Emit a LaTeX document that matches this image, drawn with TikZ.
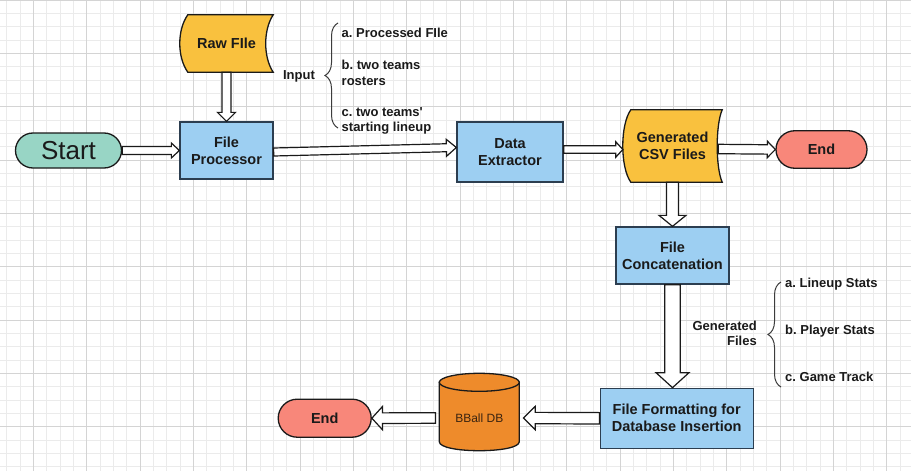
\documentclass[tikz,border=0pt]{standalone}
\usepackage{fontspec}
\setmainfont{Liberation Sans}
\usetikzlibrary{calc,decorations.pathreplacing}
\pgfdeclarelayer{gridlayer}
\pgfdeclarelayer{background}
\pgfsetlayers{gridlayer,background,main}
\frenchspacing

\definecolor{gridminor}{HTML}{EBEBEB}
\definecolor{gridmajor}{HTML}{D4D4D4}
\definecolor{boxblue}{HTML}{9DCFF2}
\definecolor{boxedge}{HTML}{2C3E50}
\definecolor{fileyellow}{HTML}{F9C13E}
\definecolor{startteal}{HTML}{98D5C5}
\definecolor{endred}{HTML}{F8877A}
\definecolor{dborange}{HTML}{EE8B2B}
\definecolor{dbtextc}{HTML}{3B2410}
\definecolor{ink}{HTML}{1A1A1A}

\tikzset{
  procbox/.style={draw=boxedge, fill=boxblue, line width=1.3pt, align=center,
    font=\bfseries\fontsize{14.5}{17}\selectfont, text=ink, inner sep=0pt},
  filebox/.style={align=center, font=\bfseries\fontsize{14.5}{17}\selectfont,
    text=ink, inner sep=0pt},
  termstart/.style={draw=ink, fill=startteal, line width=1.3pt, rounded corners=17.5pt,
    minimum width=106pt, minimum height=35pt, inner sep=0pt,
    font=\fontsize{26}{30}\selectfont, text=ink},
  termend/.style={draw=ink, fill=endred, line width=1.3pt, inner sep=0pt,
    font=\bfseries\fontsize{14.5}{17}\selectfont, text=ink},
  dbtext/.style={minimum width=80pt, minimum height=65pt, inner sep=0pt,
    font=\fontsize{12}{14}\selectfont, text=dbtextc},
  lbl/.style={font=\bfseries\fontsize{13}{15.5}\selectfont, text=ink, inner sep=0pt},
  onelbl/.style={lbl, text height=9.5pt, text depth=2.5pt},
  arrowline/.style={draw=ink, fill=white, line width=1.2pt, line join=miter},
  bracestyle/.style={draw=ink!85, line width=1pt, decorate},
  shapeline/.style={draw=ink, line width=1.3pt},
}

% stored-data shape: #1 node name, #2 right concavity depth
\newcommand\storedshape[2]{%
  \draw[shapeline, fill=fileyellow]
    ($(#1.north west)+(8,0)$) -- (#1.north east)
    .. controls ($(#1.north east)+(-1.333*#2,15)$) and ($(#1.south east)+(-1.333*#2,-15)$) .. (#1.south east)
    -- ($(#1.south west)+(8,0)$)
    .. controls ($(#1.south west)+(-2.7,-15)$) and ($(#1.north west)+(-2.7,15)$) .. cycle;}

% hollow block arrow: #1 start, #2 tip, #3 half shaft, #4 half head, #5 head length
\newcommand\hollowarrow[5]{%
  \coordinate (ha-s) at (#1);
  \coordinate (ha-e) at (#2);
  \coordinate (ha-h) at ($(ha-e)!#5!(ha-s)$);
  \draw[arrowline] ($(ha-s)!#3!90:(ha-e)$) -- ($(ha-h)!#3!90:(ha-e)$)
    -- ($(ha-h)!#4!90:(ha-e)$) -- (ha-e) -- ($(ha-h)!#4!-90:(ha-e)$)
    -- ($(ha-h)!#3!-90:(ha-e)$) -- ($(ha-s)!#3!-90:(ha-e)$) -- cycle;}

\begin{document}
\begin{tikzpicture}[x=1pt,y=-1pt]
\useasboundingbox (0,0) rectangle (911,471);

% grid
\begin{pgfonlayer}{gridlayer}
  \fill[white] (0,0) rectangle (911,471);
  \foreach \k in {0,...,35} \draw[gridminor, line width=0.7pt] (0,\k*13.3333) -- (911,\k*13.3333);
  \foreach \k in {0,...,68} \draw[gridminor, line width=0.7pt] (6.6667+\k*13.3333,0) -- (6.6667+\k*13.3333,471);
  \foreach \k in {0,...,8} \draw[gridmajor, line width=0.8pt] (0,\k*53.3333) -- (911,\k*53.3333);
  \foreach \k in {0,...,16} \draw[gridmajor, line width=0.8pt] (33.3333+\k*53.3333,0) -- (33.3333+\k*53.3333,471);
\end{pgfonlayer}

% nodes
\node[termstart] (start) at (68.5,150.5) {Start};
\node[filebox, minimum width=93pt, minimum height=57pt] (raw) at (226.5,43.5) {Raw FIle};
\node[procbox, minimum width=93pt, minimum height=57pt] (fp) at (226.5,150.5) {File\\Processor};
\node[procbox, minimum width=106pt, minimum height=60pt] (de) at (510,152) {Data\\Extractor};
\node[filebox, minimum width=99pt, minimum height=72pt] (csv) at (672.5,146) {Generated\\CSV Files};
\node[termend, minimum width=91pt, minimum height=37.5pt, rounded corners=18.75pt] (end1) at (821.5,149.5) {End};
\node[procbox, minimum width=113pt, minimum height=57pt] (concat) at (672.5,255.5) {File\\Concatenation};
\node[procbox, minimum width=153pt, minimum height=60pt] (ff) at (676.7,418.3) {File Formatting for\\Database Insertion};
\node[dbtext] (db) at (479.3,418) {BBall DB};
\node[termend, minimum width=93pt, minimum height=38pt, rounded corners=19pt] (end2) at (324.7,418.2) {End};

% shapes behind text
\begin{pgfonlayer}{background}
  \storedshape{raw}{7.5}
  \storedshape{csv}{5}
  \draw[shapeline, fill=dborange] (439.3,382.3) -- (439.3,441.7)
    .. controls (439.3,453.7) and (519.3,453.7) .. (519.3,441.7) -- (519.3,382.3) -- cycle;
  \draw[shapeline, fill=dborange] (479.3,382.3) ellipse [x radius=40pt, y radius=9pt];
\end{pgfonlayer}

% labels
\node[lbl] (inputlbl) at (299,76) {Input};
\node[onelbl, anchor=west] (ina) at (341.5,33.5) {a. Processed FIle};
\node[lbl, anchor=west, align=left] (inb) at (341.5,73) {b. two teams\\rosters};
\node[lbl, anchor=west, align=left] (inc) at (341.5,121) {c. two teams\textquotesingle\\starting lineup};
\node[lbl, anchor=east, align=right] (genlbl) at (757,333.5) {Generated\\Files};
\node[onelbl, anchor=west] (gena) at (785,283.5) {a. Lineup Stats};
\node[onelbl, anchor=west] (genb) at (785,331) {b. Player Stats};
\node[onelbl, anchor=west] (genc) at (785,378) {c. Game Track};

% braces
\draw[bracestyle, decoration={brace, amplitude=13pt}] (338,128) -- (338,23);
\draw[bracestyle, decoration={brace, amplitude=13pt}] (781,387) -- (781,282);

% arrows
\hollowarrow{start.east}{fp.west}{4pt}{7.5pt}{8pt}
\hollowarrow{raw.south}{fp.north}{4.5pt}{9pt}{9pt}
\hollowarrow{$(fp.east)+(0,1.5)$}{$(de.west)+(0,-4.5)$}{4pt}{8.5pt}{10pt}
\hollowarrow{$(de.east)+(0,-2.5)$}{$(csv.west)+(0,3.5)$}{3.8pt}{7.7pt}{7pt}
\hollowarrow{$(csv.east)+(-4,3)$}{end1.west}{4.7pt}{8.2pt}{8pt}
\hollowarrow{csv.south}{concat.north}{6pt}{13.5pt}{11pt}
\hollowarrow{concat.south}{concat.south |- ff.north}{7.8pt}{16.5pt}{15pt}
\hollowarrow{ff.west}{$(db.east)+(4,0)$}{5.7pt}{11.7pt}{11.7pt}
\hollowarrow{$(db.west)+(-3.6,0)$}{end2.east}{5.3pt}{11.7pt}{10.7pt}
\end{tikzpicture}
\end{document}
